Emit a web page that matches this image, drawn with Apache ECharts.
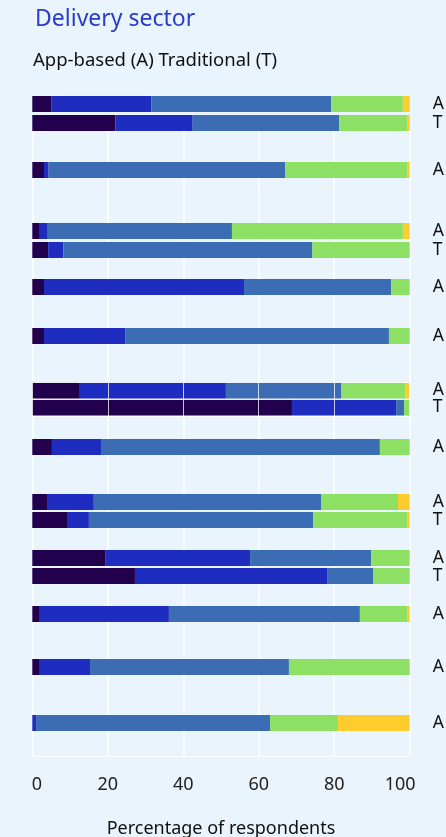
<!DOCTYPE html>
<html>
<head>
<meta charset="utf-8">
<script src="https://cdn.jsdelivr.net/npm/echarts@6/dist/echarts.min.js"></script>
<style>
  html, body { margin: 0; padding: 0; background: #eaf4fd; }
  #chart { width: 446px; height: 837px; }
</style>
</head>
<body>
<div id="chart"></div>
<script>
// Bars, top to bottom: worker type and the facet each bar belongs to
const barTypes = ['A', 'T', 'A', 'A', 'T', 'A', 'A', 'A', 'T', 'A', 'A', 'T', 'A', 'T', 'A', 'A', 'A'];
const barFacet = [0, 0, 1, 2, 2, 3, 4, 5, 5, 6, 7, 7, 8, 8, 9, 10, 11];

// Share of respondents (%) in each of the five response levels
const level1 = [5, 22, 3.1, 2, 4.2, 3.1, 3.1, 12.6, 68.8, 5.2, 3.9, 9.2, 19.3, 27.2, 2, 2, 0];
const level2 = [26.5, 20.5, 1.1, 2.1, 4.0, 53, 21.5, 38.7, 27.6, 13, 12.4, 5.8, 38.4, 50.9, 34.2, 13.3, 1];
const level3 = [47.7, 38.8, 62.8, 48.8, 66, 39, 69.9, 30.5, 2.1, 73.9, 60.2, 59.4, 32.1, 12.2, 50.6, 52.7, 62];
const level4 = [19, 18, 32.3, 45.3, 25.8, 4.9, 5.5, 17.1, 1.5, 7.9, 20.4, 24.9, 10.2, 9.7, 12.5, 32, 18];
const level5 = [1.8, 0.7, 0.7, 1.8, 0, 0, 0, 1.1, 0, 0, 3.1, 0.7, 0, 0, 0.7, 0, 19];

const xTicks = [0, 20, 40, 60, 80, 100];

const levels = [level1, level2, level3, level4, level5];
const levelNames = ['Level 1', 'Level 2', 'Level 3', 'Level 4', 'Level 5'];
const levelColors = ['#22004e', '#1f2cc0', '#3c6cb4', '#8de063', '#fecd2d'];

// Facet placement: [top, row slot height] in px
const facetLayout = [
  [94.5, 19], [160.5, 19], [221.5, 19], [277.5, 19], [326.5, 19], [382, 17],
  [437.5, 19], [493, 18], [549, 18], [604.5, 19], [657.5, 19], [713.5, 19]
];
const plotLeft = 32.3;
const plotWidth = 377.4;
const font = 'Noto Sans';

const nFacets = facetLayout.length;
const grids = [], xAxes = [], yAxes = [], series = [];

for (let f = 0; f < nFacets; f++) {
  const idx = [];
  barFacet.forEach((g, i) => { if (g === f) idx.push(i); });
  const [top, slot] = facetLayout[f];
  grids.push({
    left: plotLeft, width: plotWidth, top: top, height: slot * idx.length,
    containLabel: false, outerBoundsMode: 'none'
  });
  const overlayLines = (f === 5);
  xAxes.push({
    gridIndex: f, type: 'value', min: 0, max: 100, interval: 20,
    axisLine: { show: false }, axisTick: { show: false }, axisLabel: { show: false },
    splitLine: { show: overlayLines, lineStyle: { color: 'rgba(255,255,255,0.75)', width: 1 } },
    z: overlayLines ? 5 : 0
  });
  yAxes.push({
    gridIndex: f, type: 'category', inverse: true, position: 'right',
    data: idx.map(i => barTypes[i]),
    axisLine: { show: false }, axisTick: { show: false },
    axisLabel: { interval: 0, margin: 23, fontSize: 17.5, color: '#111', fontFamily: font },
    splitLine: { show: overlayLines, lineStyle: { color: 'rgba(255,255,255,0.85)', width: 1 } },
    z: overlayLines ? 5 : 0
  });
  levels.forEach((vals, l) => {
    series.push({
      type: 'bar', name: levelNames[l], stack: 'facet' + f,
      xAxisIndex: f, yAxisIndex: f, barWidth: 16,
      itemStyle: { color: levelColors[l] },
      emphasis: { disabled: true },
      data: idx.map(i => vals[i])
    });
  });
}

// Shared percentage axis with gridlines behind the facets
grids.push({
  left: plotLeft, width: plotWidth, top: 131, height: 625,
  containLabel: false, outerBoundsMode: 'none'
});
xAxes.push({
  gridIndex: nFacets, type: 'value', min: xTicks[0], max: xTicks[xTicks.length - 1], interval: 20,
  name: 'Percentage of respondents', nameLocation: 'middle', nameGap: 64,
  nameTextStyle: { fontSize: 18, color: '#111', fontFamily: font },
  axisLine: { show: true, lineStyle: { color: '#ffffff', width: 1 } },
  axisTick: { show: false },
  axisLabel: {
    margin: 20, fontSize: 18, color: '#222', fontFamily: font,
    formatter: v => (v === 0 ? '{first|0}' : v === 100 ? '{last|100}' : String(v)),
    rich: {
      first: { fontSize: 18, color: '#222', fontFamily: font, padding: [0, 0, 0, 9] },
      last: { fontSize: 18, color: '#222', fontFamily: font, padding: [0, 19, 0, 0] }
    }
  },
  splitLine: { show: true, lineStyle: { color: '#ffffff', width: 1.5 } }
});
yAxes.push({
  gridIndex: nFacets, type: 'value', min: 0, max: 1, show: false
});

const chart = echarts.init(document.getElementById('chart'), null, { renderer: 'canvas' });
chart.setOption({
  backgroundColor: '#eaf4fd',
  animation: false,
  textStyle: { fontFamily: font },
  title: [
    { text: 'Delivery sector', left: 30, top: 3,
      textStyle: { fontSize: 23, fontWeight: 'normal', color: '#2a3ccc', fontFamily: font } },
    { text: 'App-based (A) Traditional (T)', left: 28, top: 46,
      textStyle: { fontSize: 18.5, fontWeight: 'normal', color: '#111', fontFamily: font } }
  ],
  grid: grids,
  xAxis: xAxes,
  yAxis: yAxes,
  series: series
});
</script>
</body>
</html>
